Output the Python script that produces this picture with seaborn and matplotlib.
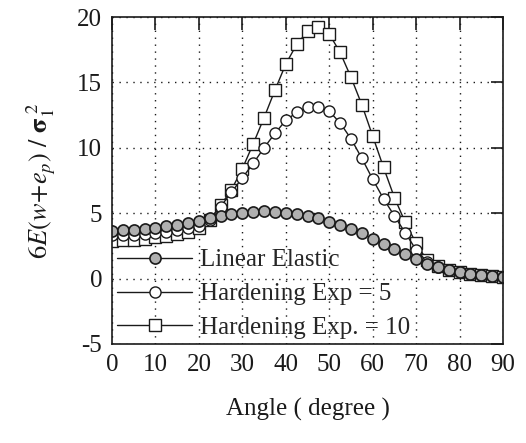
import numpy as np
import pandas as pd
import matplotlib
matplotlib.use("Agg")
import matplotlib.pyplot as plt
import seaborn as sns

# angle in degrees, one point every 2.5 degree
angle = np.arange(0, 90.1, 2.5)

linear_elastic = [3.65, 3.70, 3.75, 3.82, 3.90, 4.00, 4.12, 4.25, 4.40, 4.60,
                  4.80, 4.95, 5.05, 5.12, 5.15, 5.12, 5.05, 4.95, 4.80, 4.60,
                  4.35, 4.10, 3.80, 3.45, 3.05, 2.65, 2.25, 1.88, 1.50, 1.15,
                  0.88, 0.65, 0.48, 0.35, 0.25, 0.18, 0.12]

hard_exp5 = [3.30, 3.30, 3.35, 3.40, 3.48, 3.58, 3.72, 3.88, 4.05, 4.50,
             5.50, 6.60, 7.70, 8.80, 10.0, 11.1, 12.1, 12.7, 13.1, 13.15,
             12.8, 11.9, 10.7, 9.2, 7.6, 6.1, 4.8, 3.5, 2.2, 1.30,
             0.90, 0.66, 0.49, 0.36, 0.26, 0.19, 0.13]

hard_exp10 = [2.90, 2.93, 2.98, 3.05, 3.15, 3.28, 3.42, 3.60, 3.85, 4.50,
              5.60, 6.80, 8.40, 10.3, 12.3, 14.4, 16.4, 17.9, 18.9, 19.2,
              18.7, 17.3, 15.4, 13.3, 10.9, 8.5, 6.2, 4.3, 2.7, 1.40,
              0.95, 0.68, 0.50, 0.37, 0.27, 0.19, 0.13]

x_ticks = list(range(0, 91, 10))
y_ticks = list(range(-5, 21, 5))

sns.set_theme(style="white")
plt.rcParams['font.family'] = ['Liberation Serif', 'DejaVu Serif']
plt.rcParams['mathtext.fontset'] = 'stix'
plt.rcParams['axes.unicode_minus'] = False

fig = plt.figure(figsize=(5.26, 4.43), dpi=100)
ax = fig.add_axes([112/526, 1-344/443, (503-112)/526, (344-17)/443])

ms = 8
sns.lineplot(x=angle, y=hard_exp10, ax=ax, color='k', lw=1.0, marker='s',
             ms=ms, mfc='white', mec='k', mew=1.0, label='Hardening Exp. = 10')
sns.lineplot(x=angle, y=hard_exp5, ax=ax, color='k', lw=1.0, marker='o',
             ms=ms, mfc='white', mec='k', mew=1.0, label='Hardening Exp = 5')
sns.lineplot(x=angle, y=linear_elastic, ax=ax, color='k', lw=1.0, marker='o',
             ms=ms, mfc='#b0b0b0', mec='k', mew=1.2, label='Linear Elastic')

ax.set_xlim(0, 90)
ax.set_ylim(-5, 20)
ax.set_xticks(x_ticks)
ax.set_yticks(y_ticks)
ax.grid(True, ls=(0, (1, 4)), color='k', lw=1.0)
for sp in ax.spines.values():
    sp.set_color('k')
    sp.set_linewidth(1.2)
ax.tick_params(direction='in', length=9, width=1.2, top=True, right=True,
               labelsize=18, pad=7, colors='k')

ax.set_xlabel('Angle ( degree )', fontsize=18, labelpad=16, color='k')
ax.set_ylabel(r'$6E(w\!+\!e_p)\ /\ \mathbf{\sigma}_1^{\ 2}$', fontsize=19,
              labelpad=14, color='k')

handles, labels = ax.get_legend_handles_labels()
ax.legend(handles[::-1], labels[::-1], loc='lower left', bbox_to_anchor=(0.0, 0.0),
          frameon=False, fontsize=18, handlelength=3.0, handletextpad=0.3,
          labelspacing=0.45, borderaxespad=0.1, borderpad=0.1)

fig.savefig('out.png', dpi=100)
